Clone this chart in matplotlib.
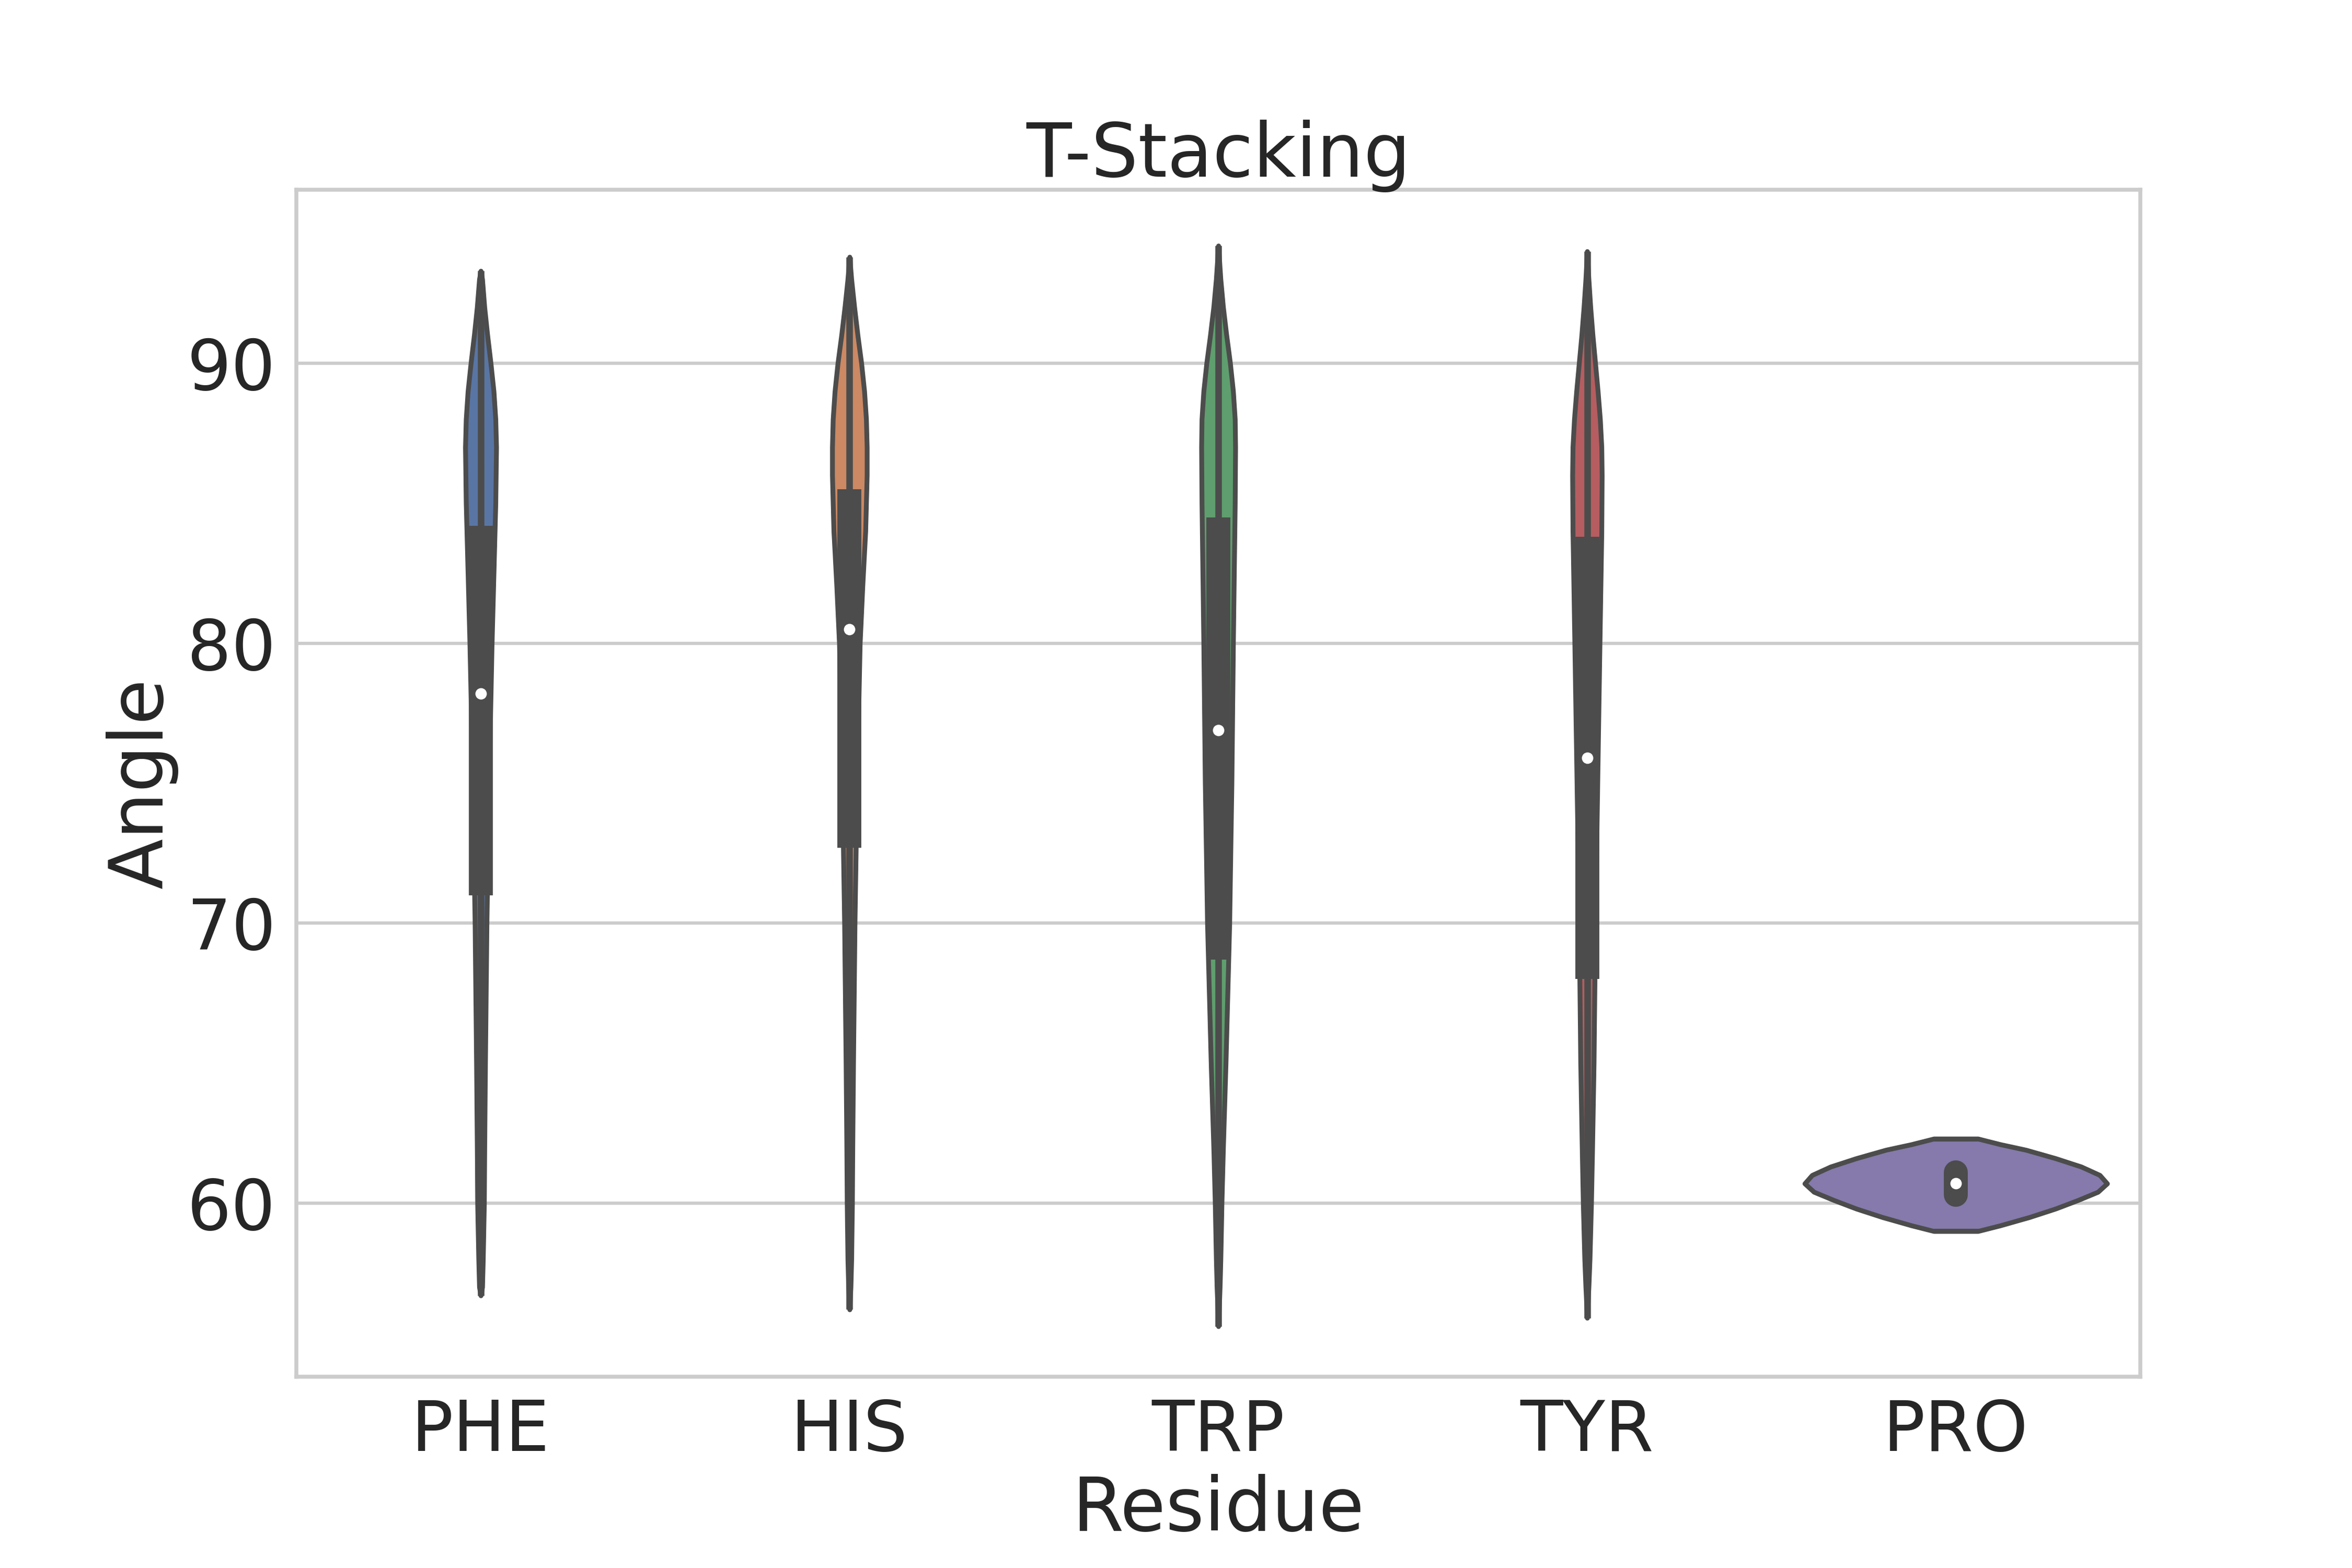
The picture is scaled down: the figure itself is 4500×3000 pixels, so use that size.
import matplotlib
matplotlib.use("Agg")
import matplotlib.pyplot as plt
import seaborn as sns
import numpy as np

categories = ["PHE", "HIS", "TRP", "TYR", "PRO"]
# violin profiles: angle levels and half-widths (category units)
phe_y = [56.7, 57, 58, 60, 62, 65, 70, 75, 80, 83, 85, 87, 88, 89, 90, 91, 92, 93, 93.3]
phe_w = [0.0, 0.004, 0.006, 0.009, 0.01, 0.012, 0.016, 0.022, 0.03, 0.036, 0.04, 0.042, 0.04, 0.035, 0.027, 0.018, 0.01, 0.004, 0.0]
his_y = [56.2, 57, 58, 60, 62, 65, 70, 75, 80, 82, 84, 86, 87, 88, 89, 90, 91, 92, 93, 93.8]
his_w = [0.0, 0.003, 0.005, 0.007, 0.008, 0.01, 0.014, 0.02, 0.028, 0.035, 0.043, 0.047, 0.047, 0.045, 0.04, 0.032, 0.022, 0.013, 0.005, 0.0]
trp_y = [55.6, 57, 58, 60, 62, 65, 70, 75, 80, 85, 87, 88, 89, 90, 91, 92, 93, 94.2]
trp_w = [0.0, 0.004, 0.006, 0.009, 0.013, 0.02, 0.03, 0.036, 0.04, 0.045, 0.046, 0.045, 0.04, 0.032, 0.022, 0.013, 0.006, 0.0]
tyr_y = [55.9, 57, 58, 60, 62, 65, 70, 75, 80, 84, 86, 87, 88, 89, 90, 91, 92, 93, 94.0]
tyr_w = [0.0, 0.004, 0.007, 0.011, 0.014, 0.018, 0.022, 0.028, 0.034, 0.039, 0.04, 0.039, 0.035, 0.029, 0.022, 0.015, 0.009, 0.004, 0.0]
pro_y = [59.0, 59.2, 59.5, 59.8, 60.1, 60.4, 60.7, 61.0, 61.3, 61.6, 61.9, 62.1, 62.3]
pro_w = [0.06, 0.12, 0.2, 0.27, 0.33, 0.385, 0.41, 0.39, 0.34, 0.27, 0.19, 0.12, 0.06]
profiles_y = [phe_y, his_y, trp_y, tyr_y, pro_y]
profiles_w = [phe_w, his_w, trp_w, tyr_w, pro_w]
q1 = [71.0, 72.7, 68.7, 68.0, 60.3]
q3 = [84.2, 85.5, 84.5, 83.8, 61.1]
medians = [78.2, 80.5, 76.9, 75.9, 60.7]
wlo = [56.7, 56.2, 55.6, 55.9, 60.2]
whi = [93.3, 93.8, 94.2, 94.0, 61.2]

sns.set_theme(style="whitegrid")
colors = [sns.desaturate(c, 0.75) for c in sns.color_palette("deep", 5)]
fig, ax = plt.subplots(figsize=(15, 10), dpi=300)
fig.subplots_adjust(left=0.126, right=0.91, bottom=0.122, top=0.879)
edge = "#4c4c4c"
for i in range(5):
    y = np.array(profiles_y[i]); w = np.array(profiles_w[i])
    ax.fill_betweenx(y, i - w, i + w, facecolor=colors[i], edgecolor=edge, linewidth=2.2, zorder=2)
    if i == 4:
        ax.plot([i - w[0], i + w[0]], [y[0], y[0]], color=edge, lw=2.2, zorder=2)
        ax.plot([i - w[-1], i + w[-1]], [y[-1], y[-1]], color=edge, lw=2.2, zorder=2)
    ax.plot([i, i], [wlo[i], whi[i]], color=edge, lw=3, zorder=3, solid_capstyle="butt")
    ax.plot([i, i], [q1[i], q3[i]], color=edge, lw=11, zorder=3, solid_capstyle="round" if i == 4 else "butt")
    ax.scatter([i], [medians[i]], s=18, color="white", zorder=4)

ax.set_xticks(range(5))
ax.set_xticklabels(categories)
ax.set_xlim(-0.5, 4.5)
ax.set_ylim(53.8, 96.2)
ax.set_yticks([60, 70, 80, 90])
ax.tick_params(labelsize=32)
ax.set_xlabel("Residue", fontsize=34)
ax.set_ylabel("Angle", fontsize=34)
ax.set_title("T-Stacking", fontsize=34)
ax.xaxis.grid(False)
for s in ax.spines.values():
    s.set_color("#cccccc"); s.set_linewidth(1.8)
ax.grid(axis="y", color="#cccccc", linewidth=1.5)
fig.savefig("out.png", dpi=300)
